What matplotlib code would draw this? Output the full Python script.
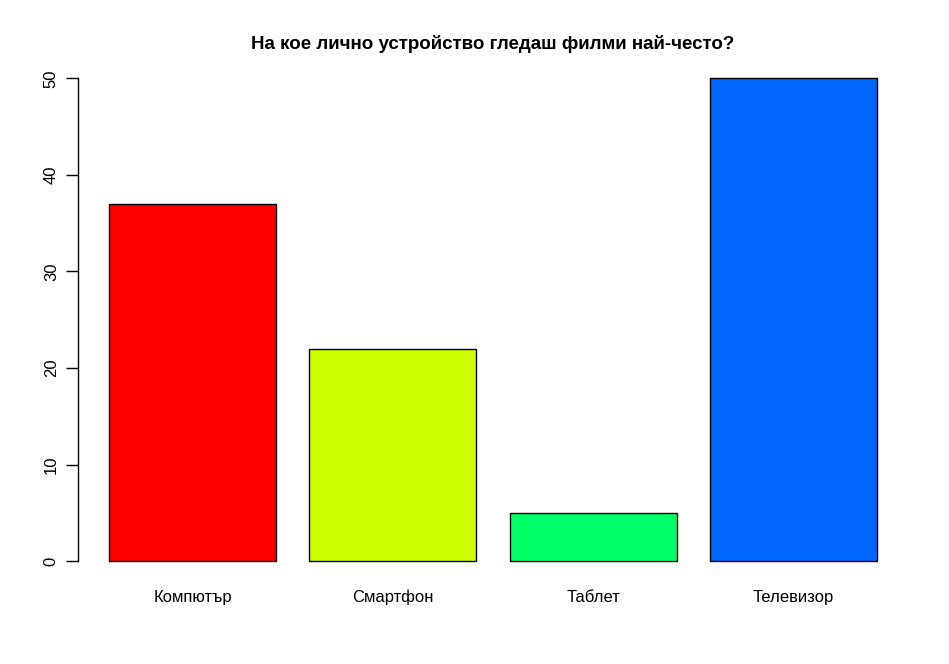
import matplotlib
matplotlib.use("Agg")
import matplotlib.pyplot as plt

plt.rcParams['font.family'] = ['Liberation Sans', 'DejaVu Sans']

# Данни
устройства = ['Компютър', 'Смартфон', 'Таблет', 'Телевизор']
брой = [37, 22, 5, 50]
цветове = ['#FF0000', '#CCFF00', '#00FF66', '#0066FF']
yticks = [0, 10, 20, 30, 40, 50]

fig = plt.figure(figsize=(9.49, 6.64), dpi=100)
ax = fig.add_axes([0.0825, 0.126, 0.874, 0.785])

# позиции като в R barplot (width=1, space=0.2)
pos = [0.7 + 1.2 * i for i in range(len(брой))]
ax.bar(pos, брой, width=1, color=цветове, edgecolor='black', linewidth=1)

ax.set_xlim(0.016, 4.984)
ax.set_ylim(-2, 52)

for s in ['top', 'right', 'bottom']:
    ax.spines[s].set_visible(False)
ax.spines['left'].set_bounds(0, 50)
ax.spines['left'].set_linewidth(1)

ax.set_yticks(yticks)
ax.set_yticklabels([str(v) for v in yticks], rotation=90, va='center', fontsize=12)
ax.tick_params(axis='y', length=9, width=1, pad=5)

ax.set_xticks(pos)
ax.set_xticklabels(устройства, fontsize=12, va='baseline')
ax.tick_params(axis='x', length=0, pad=15.5)

ax.set_title('На кое лично устройство гледаш филми най-често?',
             fontsize=13.5, fontweight='bold', pad=7)

fig.savefig('out.png', dpi=100)
